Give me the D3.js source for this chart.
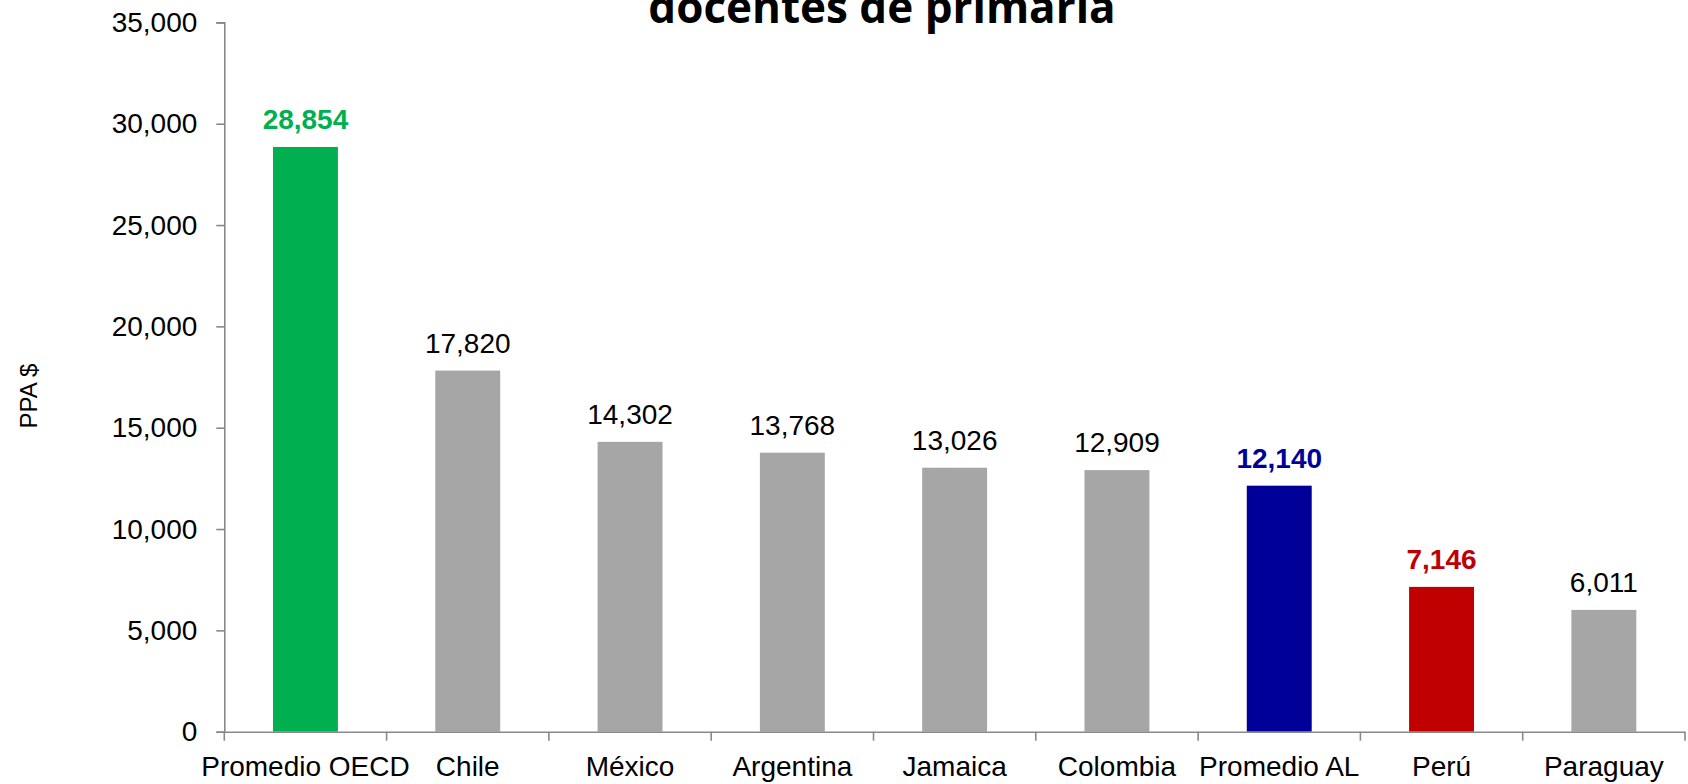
<!DOCTYPE html>
<html>
<head>
<meta charset="utf-8">
<script src="https://cdn.jsdelivr.net/npm/d3@7"></script>
<style>
  html, body { margin: 0; padding: 0; background: #fff; }
  svg { display: block; }
  text { font-family: "Liberation Sans", Arial, sans-serif; }
</style>
</head>
<body>
<svg id="chart" width="1688" height="784"></svg>
<script>
const categories = ["Promedio OECD", "Chile", "México", "Argentina", "Jamaica", "Colombia", "Promedio AL", "Perú", "Paraguay"];
const values = [28854, 17820, 14302, 13768, 13026, 12909, 12140, 7146, 6011];
const yTicks = [0, 5000, 10000, 15000, 20000, 25000, 30000, 35000];
const titleText = "docentes de primaria";
const yTitle = "PPA $";

// styling (kept separate from data)
const barColor = {"Promedio OECD": "#00B050", "Promedio AL": "#000099", "Perú": "#C00000"};
const defaultBar = "#A6A6A6";
const labelColor = {"Promedio OECD": "#00B050", "Promedio AL": "#000099", "Perú": "#C00000"};

const svg = d3.select("#chart");
const plotLeft = 224.3, plotRight = 1685, plotTop = 22.4, plotBottom = 731.7;

const y = d3.scaleLinear().domain([0, 35000]).range([plotBottom, plotTop]);
const x = d3.scaleBand().domain(categories).range([plotLeft, plotRight]).paddingInner(0.6).paddingOuter(0.3);

// Title (second line visible)
svg.append("text")
  .attr("x", 882).attr("y", 23)
  .attr("text-anchor", "middle")
  .style("font-family", "'Open Sans', 'Noto Sans', sans-serif")
  .style("font-weight", "bold")
  .style("font-size", "44px")
  .attr("fill", "#000")
  .text(titleText);

// Bars
svg.append("g").selectAll("rect")
  .data(categories)
  .join("rect")
  .attr("x", d => x(d))
  .attr("width", x.bandwidth())
  .attr("y", (d, i) => y(values[i]))
  .attr("height", (d, i) => y(0) - y(values[i]))
  .attr("fill", d => barColor[d] || defaultBar);

// Value labels
svg.append("g").selectAll("text")
  .data(categories)
  .join("text")
  .attr("x", d => x(d) + x.bandwidth() / 2)
  .attr("y", (d, i) => y(values[i]) - 18)
  .attr("text-anchor", "middle")
  .style("font-size", "28px")
  .style("font-weight", d => labelColor[d] ? "bold" : "normal")
  .attr("fill", d => labelColor[d] || "#000")
  .text((d, i) => d3.format(",")(values[i]));

const axisColor = "#898989";

// Y axis
const yAxis = svg.append("g")
  .attr("transform", `translate(${plotLeft},0)`)
  .call(d3.axisLeft(y).tickValues(yTicks).tickFormat(d3.format(",")).tickSize(8).tickPadding(19));
yAxis.select(".domain").attr("stroke", axisColor).attr("stroke-width", 1.6);
yAxis.selectAll(".tick line").attr("stroke", axisColor).attr("stroke-width", 1.6);
yAxis.selectAll(".tick text").style("font-size", "28px").attr("fill", "#000")
  .style("font-family", "'Liberation Sans', Arial, sans-serif");

// X axis (labels)
const xAxis = svg.append("g")
  .attr("transform", `translate(0,${plotBottom})`)
  .call(d3.axisBottom(x).tickSize(0).tickPadding(24).tickSizeOuter(0));
xAxis.select(".domain").attr("stroke", axisColor).attr("stroke-width", 1.6);
xAxis.selectAll(".tick text").style("font-size", "28px").attr("fill", "#000")
  .style("font-family", "'Liberation Sans', Arial, sans-serif");

// X boundary ticks
const step = x.step();
const boundaries = d3.range(categories.length + 1).map(i => plotLeft + i * step);
svg.append("g").selectAll("line")
  .data(boundaries)
  .join("line")
  .attr("x1", d => d).attr("x2", d => d)
  .attr("y1", plotBottom).attr("y2", plotBottom + 9)
  .attr("stroke", axisColor).attr("stroke-width", 1.6);

// Y title
svg.append("text")
  .attr("transform", "translate(37,396) rotate(-90)")
  .attr("text-anchor", "middle")
  .style("font-size", "24px")
  .attr("fill", "#000")
  .text(yTitle);
</script>
</body>
</html>
